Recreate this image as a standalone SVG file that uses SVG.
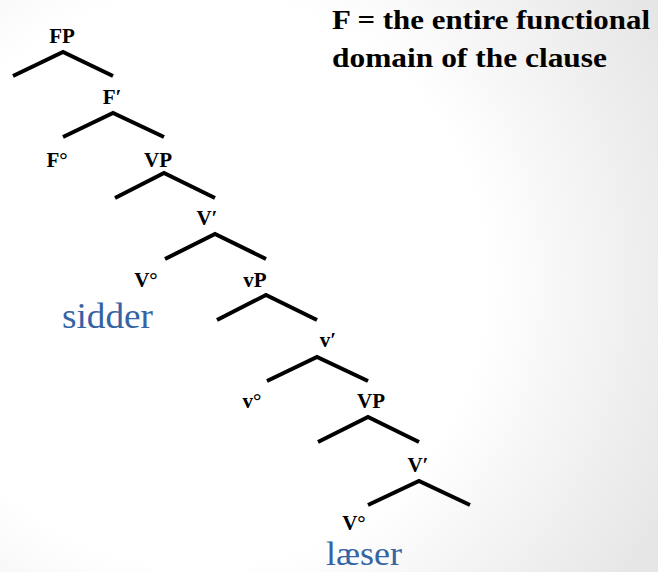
<svg xmlns="http://www.w3.org/2000/svg" width="658" height="572" viewBox="0 0 658 572">
<defs>
<radialGradient id="bg" gradientUnits="userSpaceOnUse" cx="200" cy="280" r="520">
<stop offset="0.55" stop-color="#ffffff"/>
<stop offset="1" stop-color="#e6e6e6"/>
</radialGradient>
<style>
.br{fill:none;stroke:#000;stroke-width:4;stroke-linecap:butt;stroke-linejoin:miter}
.lb{font-family:"Liberation Serif","Times New Roman",serif;font-weight:bold;font-size:21px;fill:#000;text-anchor:middle}
.wd{font-family:"Liberation Serif","Times New Roman",serif;font-size:35px;fill:#3563a3}
.hd{font-family:"Liberation Serif","Times New Roman",serif;font-weight:bold;font-size:28px;fill:#000}
</style>
</defs>
<rect width="658" height="572" fill="url(#bg)"/>
<g id="note">
<text class="hd" x="332" y="29" textLength="318" lengthAdjust="spacingAndGlyphs">F = the entire functional</text>
<text class="hd" x="332" y="67" textLength="275" lengthAdjust="spacingAndGlyphs">domain of the clause</text>
</g>
<g id="connectors">
<polyline class="br" points="13,76 63,52 113,76"/>
<polyline class="br" points="63,137 113,113 164,137"/>
<polyline class="br" points="115,198 164,173 215,198"/>
<polyline class="br" points="165,259 215,234 266,259"/>
<polyline class="br" points="217,320 266,295 317,320"/>
<polyline class="br" points="267,381 317,357 368,381"/>
<polyline class="br" points="318,442 368,417 419,442"/>
<polyline class="br" points="368,505 419,481 470,505"/>
</g>
<g id="FP"><text class="lb" x="62" y="43">FP</text></g>
<g id="Fbar"><text class="lb" x="112" y="104">F′</text></g>
<g id="F0"><text class="lb" x="57" y="167">F°</text></g>
<g id="VP1"><text class="lb" x="158" y="167">VP</text></g>
<g id="Vbar1"><text class="lb" x="207" y="225">V′</text></g>
<g id="V01"><text class="lb" x="146" y="287">V°</text></g>
<g id="sidder"><text class="wd" x="62" y="328" textLength="91" lengthAdjust="spacingAndGlyphs">sidder</text></g>
<g id="vP"><text class="lb" x="255" y="287">vP</text></g>
<g id="vbar"><text class="lb" x="328" y="347">v′</text></g>
<g id="v0"><text class="lb" x="252" y="408">v°</text></g>
<g id="VP2"><text class="lb" x="371" y="408">VP</text></g>
<g id="Vbar2"><text class="lb" x="418" y="472">V′</text></g>
<g id="V02"><text class="lb" x="354" y="530">V°</text></g>
<g id="laeser"><text class="wd" x="326" y="565" style="font-size:34px" textLength="76" lengthAdjust="spacingAndGlyphs">læser</text></g>
</svg>
